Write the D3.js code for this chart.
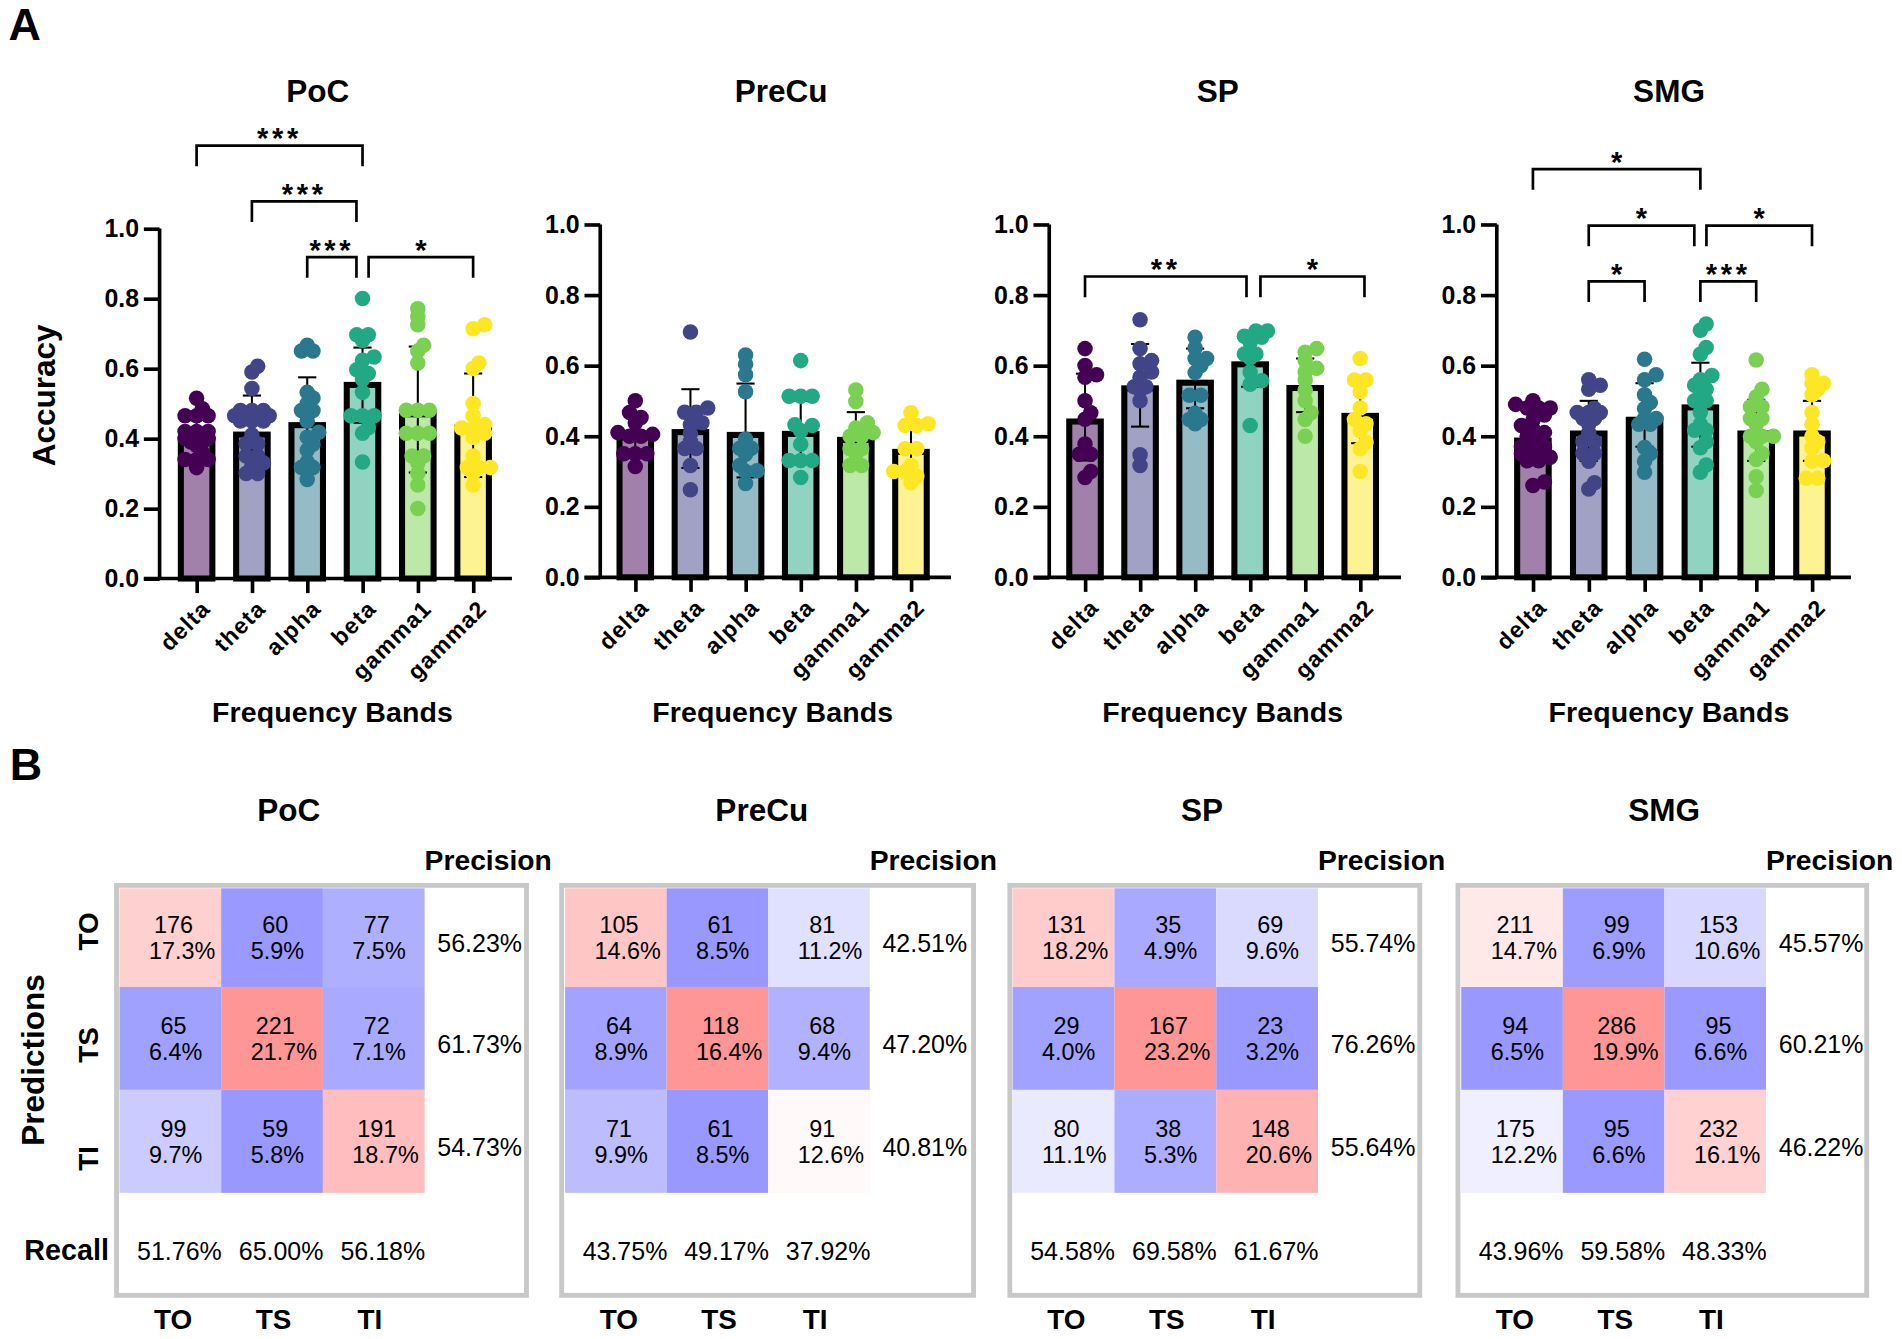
<!DOCTYPE html>
<html><head><meta charset="utf-8">
<script src="https://cdn.jsdelivr.net/npm/d3@7"></script>
<style>html,body{margin:0;background:#fff}svg{display:block}text{font-family:"Liberation Sans",Arial,sans-serif;fill:#000}</style>
</head><body><svg id="c"></svg>
<script>
const bands=["delta","theta","alpha","beta","gamma1","gamma2"];
const bandColors=["#440154","#414487","#2a788e","#22a884","#7ad151","#fde725"];
const yTicks=[0,0.2,0.4,0.6,0.8,1.0];
const regions=["PoC","PreCu","SP","SMG"];
const classes=["TO","TS","TI"];

const pocMeans=[.405,.42,.447,.562,.478,.44];
const pocErrTop=[.47,.523,.575,.66,.663,.586];
const pocErrBot=[.35,.317,.334,.445,.303,.29];
const pocDelta=[.515,.485,.465,.465,.465,.42,.42,.42,.41,.40,.40,.40,.39,.39,.38,.36,.34,.34,.34,.317];
const pocTheta=[.607,.59,.543,.48,.48,.48,.465,.465,.465,.465,.45,.45,.45,.41,.385,.385,.35,.35,.33,.32,.30,.30];
const pocAlpha=[.667,.65,.65,.532,.516,.5,.48,.48,.45,.418,.404,.384,.367,.333,.317,.317,.283];
const pocBeta=[.80,.697,.697,.68,.633,.624,.597,.586,.569,.532,.465,.465,.465,.431,.415,.333];
const pocGamma1=[.771,.748,.725,.667,.65,.616,.481,.481,.481,.415,.415,.415,.35,.35,.33,.30,.267,.20];
const pocGamma2=[.725,.714,.616,.6,.50,.465,.44,.43,.43,.415,.404,.35,.317,.317,.317,.30,.267];

const preMeans=[.405,.42,.412,.415,.398,.364];
const preErrTop=[.455,.533,.549,.50,.468,.43];
const preErrBot=[.355,.31,.283,.33,.33,.30];
const preDelta=[.50,.467,.453,.437,.41,.405,.40,.40,.35,.35,.35,.314];
const preTheta=[.695,.48,.468,.468,.438,.432,.408,.385,.365,.365,.317,.248];
const preAlpha=[.63,.604,.574,.526,.392,.366,.366,.349,.317,.302,.30,.266];
const preBeta=[.614,.513,.513,.513,.432,.43,.415,.377,.331,.331,.331,.283];
const preGamma1=[.531,.498,.438,.423,.41,.40,.40,.364,.364,.349,.317,.317];
const preGamma2=[.466,.435,.43,.43,.364,.364,.317,.30,.30,.286,.268];

const spMeans=[.45,.544,.56,.612,.545,.466];
const spErrTop=[.577,.661,.648,.69,.62,.55];
const spErrBot=[.331,.427,.479,.54,.468,.38];
const spDelta=[.648,.60,.574,.567,.5,.466,.448,.378,.349,.349,.30,.283];
const spTheta=[.73,.648,.614,.605,.582,.567,.54,.54,.531,.5,.347,.317];
const spAlpha=[.68,.65,.62,.62,.60,.58,.516,.516,.465,.447,.447,.435];
const spBeta=[.698,.698,.683,.68,.665,.633,.633,.622,.582,.557,.547,.43];
const spGamma1=[.648,.638,.614,.592,.582,.559,.531,.5,.466,.447,.40];
const spGamma2=[.62,.559,.559,.549,.526,.48,.447,.435,.415,.382,.364,.30];

const smgMeans=[.396,.416,.455,.49,.416,.416];
const smgErrTop=[.465,.50,.55,.608,.503,.50];
const smgErrBot=[.33,.33,.37,.37,.33,.33];
const smgDelta=[.50,.49,.48,.48,.48,.47,.46,.445,.43,.42,.41,.40,.39,.37,.37,.37,.36,.36,.35,.35,.34,.33,.33,.27,.26];
const smgTheta=[.56,.544,.533,.478,.467,.467,.467,.45,.45,.434,.41,.384,.384,.351,.351,.329,.268,.25];
const smgAlpha=[.618,.574,.56,.517,.495,.478,.45,.45,.434,.434,.368,.351,.329,.298];
const smgBeta=[.718,.70,.651,.632,.572,.56,.544,.533,.517,.5,.5,.467,.434,.417,.417,.384,.367,.318,.298];
const smgGamma1=[.616,.533,.511,.483,.483,.45,.45,.434,.40,.40,.40,.384,.351,.334,.285,.246];
const smgGamma2=[.574,.55,.55,.533,.517,.467,.434,.40,.384,.367,.329,.33,.281,.281];

const pocBrackets=[[0,3,3,"***"],[1,3,2,"***"],[2,3,1,"***"],[3,5,1,"*"]];
const preBrackets=[];
const spBrackets=[[0,3,1,"**"],[3,5,1,"*"]];
const smgBrackets=[[0,3,3,"*"],[1,3,2,"*"],[3,5,2,"*"],[1,2,1,"*"],[3,4,1,"***"]];

const pocCounts=[[176,60,77],[65,221,72],[99,59,191]];
const pocShares=[[17.3,5.9,7.5],[6.4,21.7,7.1],[9.7,5.8,18.7]];
const pocPrecision=[56.23,61.73,54.73];
const pocRecall=[51.76,65.00,56.18];
const preCounts=[[105,61,81],[64,118,68],[71,61,91]];
const preShares=[[14.6,8.5,11.2],[8.9,16.4,9.4],[9.9,8.5,12.6]];
const prePrecision=[42.51,47.20,40.81];
const preRecall=[43.75,49.17,37.92];
const spCounts=[[131,35,69],[29,167,23],[80,38,148]];
const spShares=[[18.2,4.9,9.6],[4.0,23.2,3.2],[11.1,5.3,20.6]];
const spPrecision=[55.74,76.26,55.64];
const spRecall=[54.58,69.58,61.67];
const smgCounts=[[211,99,153],[94,286,95],[175,95,232]];
const smgShares=[[14.7,6.9,10.6],[6.5,19.9,6.6],[12.2,6.6,16.1]];
const smgPrecision=[45.57,60.21,46.22];
const smgRecall=[43.96,59.58,48.33];

const W=1568,H=1104;
const svg=d3.select("#c").attr("width",1902).attr("height",1339).attr("viewBox",`0 0 ${W} ${H}`);
const font=(s,size,weight)=>s.attr("font-size",size).attr("font-weight",weight||"normal");

font(svg.append("text").attr("x",7).attr("y",33).text("A"),37,"bold");
font(svg.append("text").attr("x",8).attr("y",643).text("B"),37,"bold");

// ---- panel A
const barPanels=[
 {name:"PoC",titleX:262,xLabelX:274,axisX:131.5,first:162,last:390,right:422,top:188.5,bottom:477,
  gapL:5,gapR:5,endExtra:0,levels:[0,212,166,120],
  means:pocMeans,errTop:pocErrTop,errBot:pocErrBot,brackets:pocBrackets,
  points:[pocDelta,pocTheta,pocAlpha,pocBeta,pocGamma1,pocGamma2]},
 {name:"PreCu",titleX:644,xLabelX:637,axisX:494.8,first:523.7,last:751,right:784,top:185,bottom:476,
  gapL:5,gapR:5,endExtra:0,levels:[0,228],
  means:preMeans,errTop:preErrTop,errBot:preErrBot,brackets:preBrackets,
  points:[preDelta,preTheta,preAlpha,preBeta,preGamma1,preGamma2]},
 {name:"SP",titleX:1004,xLabelX:1008,axisX:865,first:894.5,last:1121.4,right:1155,top:185,bottom:476,
  gapL:8.5,gapR:3,endExtra:3.5,levels:[0,228],
  means:spMeans,errTop:spErrTop,errBot:spErrBot,brackets:spBrackets,
  points:[spDelta,spTheta,spAlpha,spBeta,spGamma1,spGamma2]},
 {name:"SMG",titleX:1376,xLabelX:1376,axisX:1234,first:1263.8,last:1493.9,right:1526,top:185,bottom:476,
  gapL:5,gapR:5,endExtra:0,levels:[0,232,186,139.5],
  means:smgMeans,errTop:smgErrTop,errBot:smgErrBot,brackets:smgBrackets,
  points:[smgDelta,smgTheta,smgAlpha,smgBeta,smgGamma1,smgGamma2]}
];
const step=9.5, minDist=6.5, pr=6.4, barW=26, barStroke=5, capHalf=7.5, legLen=17, maxSpread=15.5;
// swarm: rows of equal value spread symmetrically, shifted sideways if they collide with the rows below
function swarm(vals,y){
  const rows=d3.rollups(vals,v=>v.length,d=>d).sort((a,b)=>a[0]-b[0]);
  const placed=[];
  rows.forEach(([v,n])=>{
    const py=y(v);
    const base=d3.range(n).map(i=>(i-(n-1)/2)*step);
    const half=(n-1)/2*step;
    const shifts=[0,step/2,-step/2,step,-step,1.5*step,-1.5*step].filter(s=>Math.abs(s)+half<=maxSpread);
    let best=0,bestD=-1;
    for(const s of shifts){
      const dist=d3.min(base,b=>d3.min(placed,p=>Math.hypot(p[0]-(b+s),p[1]-py)))??1e9;
      if(dist>=minDist){best=s;bestD=dist;break;}
      if(dist>bestD){bestD=dist;best=s;}
    }
    base.forEach(b=>placed.push([b+best,py]));
  });
  return placed;
}
barPanels.forEach(p=>{
  const g=svg.append("g");
  const x=d3.scalePoint().domain(bands).range([p.first,p.last]);
  const y=d3.scaleLinear().domain([0,1]).range([p.bottom,p.top]);
  font(g.append("text").attr("x",p.titleX).attr("y",84).attr("text-anchor","middle").text(p.name),26,"bold");

  // bars: the outer edge of the outline sits on the value
  g.selectAll("rect.bar").data(bands).join("rect").attr("class","bar")
    .attr("x",d=>x(d)-barW/2).attr("width",barW)
    .attr("y",(d,i)=>y(p.means[i])+barStroke/2).attr("height",(d,i)=>y(0)-y(p.means[i])-barStroke/2)
    .attr("fill",(d,i)=>d3.color(bandColors[i]).copy({opacity:.5})+"")
    .attr("stroke","#000").attr("stroke-width",barStroke);
  // error bars
  const eb=g.selectAll("g.err").data(bands).join("g").attr("class","err").attr("stroke","#000").attr("stroke-width",1.7);
  eb.append("line").attr("x1",d=>x(d)).attr("x2",d=>x(d)).attr("y1",(d,i)=>y(p.errTop[i])).attr("y2",(d,i)=>y(p.errBot[i]));
  eb.append("line").attr("x1",d=>x(d)-capHalf).attr("x2",d=>x(d)+capHalf).attr("y1",(d,i)=>y(p.errTop[i])).attr("y2",(d,i)=>y(p.errTop[i]));
  eb.append("line").attr("x1",d=>x(d)-capHalf).attr("x2",d=>x(d)+capHalf).attr("y1",(d,i)=>y(p.errBot[i])).attr("y2",(d,i)=>y(p.errBot[i]));
  // points
  bands.forEach((b,i)=>{
    g.append("g").selectAll("circle").data(swarm(p.points[i],y)).join("circle")
      .attr("cx",d=>x(b)+d[0]).attr("cy",d=>d[1]).attr("r",pr).attr("fill",bandColors[i]);
  });
  // axes
  const ay=g.append("g").attr("transform",`translate(${p.axisX},0)`)
    .call(d3.axisLeft(y).tickValues(yTicks).tickFormat(d3.format(".1f")).tickSize(13).tickPadding(4));
  const ax=g.append("g").attr("transform",`translate(0,${p.bottom})`)
    .call(d3.axisBottom(x).tickSize(12).tickPadding(4));
  ay.select(".domain").attr("d",`M0,${p.top}V${p.bottom}`);
  ax.select(".domain").attr("d",`M${p.axisX-13},0H${p.right}`);
  [ax,ay].forEach(a=>{a.attr("font-family",null).attr("font-size",null);a.selectAll("path,line").attr("stroke","#000").attr("stroke-width",3);});
  ay.selectAll("text").attr("font-size",20.5).attr("font-weight","bold").attr("fill","#000");
  ax.selectAll("text").attr("font-size",19).attr("font-weight","bold").attr("fill","#000").attr("letter-spacing",1)
    .attr("text-anchor","end").attr("dy",null).attr("y",null)
    .attr("transform","translate(12,26) rotate(-45)");
  font(g.append("text").attr("x",p.xLabelX).attr("y",595).attr("text-anchor","middle").attr("letter-spacing",.1).text("Frequency Bands"),23.5,"bold");
  // brackets: a bracket ending at beta stops just beside it when it shares that end
  p.brackets.forEach(([a,b,level,stars])=>{
    const sharedRight=b===3&&(p.brackets.some(q=>q[0]===3&&q[2]===level)||p.brackets.some(q=>q[1]===3&&q[2]>level));
    const xa=x(bands[a])+(a===3&&p.brackets.some(q=>q[1]===3&&q[2]===level)?p.gapL:0);
    const xb=x(bands[b])-(sharedRight?p.gapR:0)+(b===5?p.endExtra:0);
    const yy=p.levels[level];
    g.append("path").attr("d",`M${xa},${yy+legLen}V${yy}H${xb}V${yy+legLen}`).attr("fill","none").attr("stroke","#000").attr("stroke-width",2.2);
    font(g.append("text").attr("x",(xa+xb)/2).attr("y",yy+2).attr("text-anchor","middle").attr("letter-spacing",stars.length>1?3:0).text(stars),24,"bold");
  });
});
font(svg.append("text").attr("transform","translate(45,326) rotate(-90)").attr("text-anchor","middle").text("Accuracy"),26,"bold");

// ---- panel B
const boxes=[
 {name:"PoC",titleX:238,left:96,right:434,cells:[98.4,350],counts:pocCounts,shares:pocShares,precision:pocPrecision,recall:pocRecall},
 {name:"PreCu",titleX:628,left:463,right:802.6,cells:[465.8,717],counts:preCounts,shares:preShares,precision:prePrecision,recall:preRecall},
 {name:"SP",titleX:991,left:832.5,right:1170.5,cells:[834.8,1086.6],counts:spCounts,shares:spShares,precision:spPrecision,recall:spRecall},
 {name:"SMG",titleX:1372,left:1202,right:1539,cells:[1204.7,1456],counts:smgCounts,shares:smgShares,precision:smgPrecision,recall:smgRecall}
];
const rowEdges=[732.4,813.8,898.6,983.5];
const pctF=d3.format(".2f");
const rowLabelY=d3.scalePoint().domain(classes).range([768,955]);
boxes.forEach(b=>{
  const g=svg.append("g");
  const cx=d3.scaleBand().domain(classes).range(b.cells);
  const flat=b.counts.flat(), lo=d3.min(flat), hi=d3.max(flat);
  const col=d3.scaleLinear().domain([lo,(lo+hi)/2,hi]).range(["#9898ff","#ffffff","#ff9696"]);
  font(g.append("text").attr("x",b.titleX).attr("y",677).attr("text-anchor","middle").text(b.name),26,"bold");
  g.append("rect").attr("x",b.left).attr("y",730).attr("width",b.right-b.left).attr("height",338).attr("fill","none").attr("stroke","#c8c8c8").attr("stroke-width",4);
  font(g.append("text").attr("x",b.cells[1]).attr("y",717.5).text("Precision"),23.3,"bold");
  classes.forEach((rowName,r)=>{
    const T=rowEdges[r], bh=rowEdges[r+1]-T, mid=T+bh/2;
    classes.forEach((colName,c)=>{
      const L=cx(colName), bw=cx.bandwidth();
      g.append("rect").attr("x",L).attr("y",T).attr("width",bw).attr("height",bh).attr("fill",col(b.counts[r][c]));
      font(g.append("text").attr("x",L+44.5).attr("y",mid-4).attr("text-anchor","middle").text(b.counts[r][c]),19.3);
      font(g.append("text").attr("x",L+24.3).attr("y",mid+17.5).text(b.shares[r][c].toFixed(1)+"%"),19.3);
    });
    font(g.append("text").attr("x",b.cells[1]+10.5).attr("y",mid+12).text(pctF(b.precision[r])+"%"),20.6);
  });
  classes.forEach((colName,c)=>{
    font(g.append("text").attr("x",cx(colName)+14.5).attr("y",1038.5).text(pctF(b.recall[c])+"%"),20.6);
    font(g.append("text").attr("x",cx(colName)+28.5).attr("y",1096).text(colName),23,"bold");
  });
  if(b.name==="PoC"){
    classes.forEach(rowName=>{
      font(g.append("text").attr("transform",`translate(81,${rowLabelY(rowName)}) rotate(-90)`).attr("text-anchor","middle").text(rowName),23,"bold");
    });
    font(g.append("text").attr("x",20).attr("y",1039).text("Recall"),23.7,"bold");
  }
});
font(svg.append("text").attr("transform","translate(36,874) rotate(-90)").attr("text-anchor","middle").text("Predictions"),26,"bold");
</script></body></html>
